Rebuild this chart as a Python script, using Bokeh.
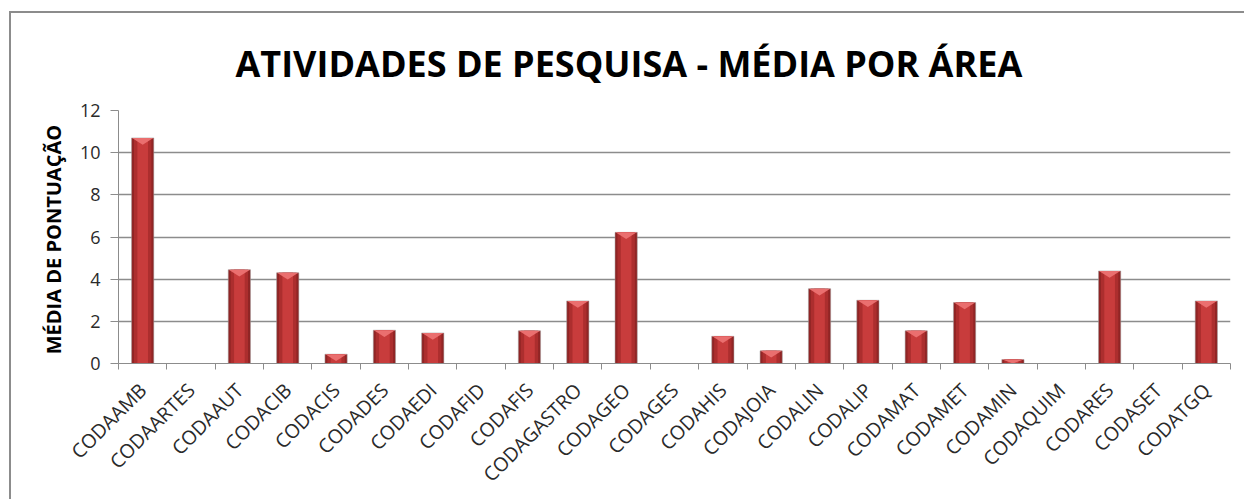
import math
from bokeh.plotting import figure
from bokeh.models import (ColumnDataSource, FixedTicker, Range1d, Title)
from bokeh.embed import file_html
from bokeh.resources import INLINE

# ---- data ----
categories = ["CODAAMB", "CODAARTES", "CODAAUT", "CODACIB", "CODACIS", "CODADES",
              "CODAEDI", "CODAFID", "CODAFIS", "CODAGASTRO", "CODAGEO", "CODAGES",
              "CODAHIS", "CODAJOIA", "CODALIN", "CODALIP", "CODAMAT", "CODAMET",
              "CODAMIN", "CODAQUIM", "CODARES", "CODASET", "CODATGQ"]
media = [10.7, 0.0, 4.45, 4.3, 0.44, 1.58,
         1.45, 0.0, 1.55, 2.97, 6.22, 0.0,
         1.29, 0.6, 3.55, 3.0, 1.55, 2.89,
         0.19, 0.0, 4.39, 0.0, 2.97]
y_ticks = [0, 2, 4, 6, 8, 10, 12]
title_text = "ATIVIDADES DE PESQUISA - MÉDIA POR ÁREA"
y_label = "MÉDIA  DE PONTUAÇÃO"

n = len(categories)
centers = [i + 0.5 for i in range(n)]
bounds = list(range(n + 1))

src = ColumnDataSource(dict(x=centers, top=media, cat=categories))

# light bevel triangle on the top of every non-empty bar
half = 0.22
cap_xs, cap_ys = [], []
for c, v in zip(centers, media):
    if v > 0:
        d = min(0.32, v)
        cap_xs.append([c - half, c + half, c])
        cap_ys.append([v, v, v - d])
cap_src = ColumnDataSource(dict(xs=cap_xs, ys=cap_ys))

FONT = "Open Sans"

p = figure(width=1235, height=488, output_backend="svg", toolbar_location=None,
           x_range=Range1d(0, n), y_range=Range1d(0, 12),
           min_border_left=107, min_border_right=16, min_border_top=97,
           min_border_bottom=138)
p.styles = {"box-shadow": "-2px -2px 0px 0px #8c8c8c", "margin-left": "11px",
            "margin-top": "13px"}
p.outline_line_color = None
p.background_fill_color = "white"
p.border_fill_color = "white"

# bars: layered to imitate the shaded cylinder look
p.vbar(x="x", top="top", bottom=0, width=0.46, source=src,
       fill_color="#902525", line_color="#a0a0a0", line_alpha=0.5, line_width=1)
p.vbar(x="x", top="top", bottom=0, width=0.36, source=src,
       fill_color="#ac2e2e", line_color=None)
p.vbar(x="x", top="top", bottom=0, width=0.22, source=src,
       fill_color="#c83c3c", line_color=None)
p.patches(xs="xs", ys="ys", source=cap_src, fill_color="#ec7272",
          line_color=None, fill_alpha=0.95)

# grid
p.xgrid.grid_line_color = None
p.ygrid.ticker = FixedTicker(ticks=y_ticks)
p.ygrid.grid_line_color = "#8c8c8c"
p.ygrid.grid_line_width = 1.5

# y axis
p.yaxis.ticker = FixedTicker(ticks=y_ticks)
p.yaxis.axis_line_color = "#8c8c8c"
p.yaxis.major_tick_line_color = "#8c8c8c"
p.yaxis.major_tick_out = 8
p.yaxis.major_tick_in = 0
p.yaxis.minor_tick_line_color = None
p.yaxis.major_label_text_font = FONT
p.yaxis.major_label_text_font_size = "18px"
p.yaxis.major_label_text_color = "#2a2a2a"
p.yaxis.major_label_standoff = 10
p.yaxis.axis_label = y_label
p.yaxis.axis_label_text_font = FONT
p.yaxis.axis_label_text_font_style = "bold"
p.yaxis.axis_label_text_font_size = "20px"
p.yaxis.axis_label_text_color = "black"
p.yaxis.axis_label_standoff = 10

# x axis: labels at centres, tick marks at boundaries (minor ticks)
p.xaxis.ticker = FixedTicker(ticks=centers, minor_ticks=bounds)
p.xaxis.major_label_overrides = {c: lab for c, lab in zip(centers, categories)}
p.xaxis.major_tick_line_color = None
p.xaxis.minor_tick_line_color = "#8c8c8c"
p.xaxis.minor_tick_out = 6
p.xaxis.minor_tick_in = 0
p.xaxis.axis_line_color = "#8c8c8c"
p.xaxis.major_label_orientation = math.pi / 4
p.xaxis.major_label_text_font = FONT
p.xaxis.major_label_text_font_size = "19.5px"
p.xaxis.major_label_text_color = "#2a2a2a"
p.xaxis.major_label_standoff = 17

p.add_layout(Title(text=title_text, align="left", offset=117,
                   text_font=FONT, text_font_style="bold", text_font_size="36px",
                   text_color="black", standoff=45), "above")

open("out.html", "w").write(file_html(p, INLINE))
